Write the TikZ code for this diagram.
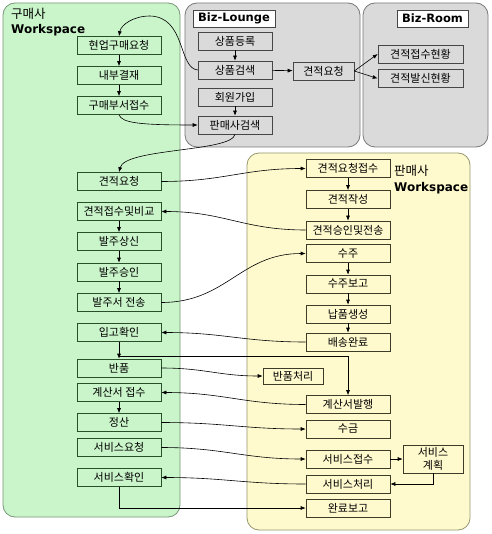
\documentclass[tikz,border=0pt]{standalone}
\usepackage{fontspec}
\newfontfamily\kr{Noto Sans CJK KR}
\newfontfamily\lat{DejaVu Sans}
\usetikzlibrary{arrows.meta}
\definecolor{gfill}{RGB}{202,245,202}
\definecolor{gpan}{RGB}{120,150,120}
\definecolor{gbd}{RGB}{40,80,40}
\definecolor{xfill}{RGB}{218,218,218}
\definecolor{xpan}{RGB}{120,120,120}
\definecolor{xbd}{RGB}{70,70,70}
\definecolor{yfill}{RGB}{255,250,205}
\definecolor{ypan}{RGB}{150,150,110}
\definecolor{ybd}{RGB}{60,60,40}
\begin{document}
\begin{tikzpicture}[x=1pt,y=-1pt,
  panel/.style={rounded corners=12pt, line width=0.8pt},
  box/.style={draw, inner sep=0pt, minimum height=18pt, font=\kr\fontsize{11}{12}\selectfont, line width=0.6pt},
  gbx/.style={box, draw=gbd, fill=gfill, minimum width=84pt},
  ybx/.style={box, draw=ybd, fill=yfill, minimum width=84pt},
  xbx/.style={box, draw=xbd, fill=xfill, minimum width=74pt},
  tag/.style={draw=xbd, fill=white, inner sep=0pt, minimum height=17pt, font=\lat\bfseries\fontsize{11.5}{12}\selectfont, line width=0.6pt},
  arr/.style={-{Latex[length=5pt,width=4pt]}, line width=0.6pt},
  lr/.style={arr, out=0, in=180, looseness=1.1},
  rl/.style={arr, out=180, in=0, looseness=1.1}]
\useasboundingbox (0,0) rectangle (491,534);
\fill[white] (0,0) rectangle (491,534);
% panels
\draw[panel, draw=gpan, fill=gfill] (3,3) rectangle (180,517);
\draw[panel, draw=xpan, fill=xfill] (185,3) rectangle (360,147);
\draw[panel, draw=xpan, fill=xfill] (363,3) rectangle (488,147);
\draw[panel, draw=ypan, fill=yfill] (247,153) rectangle (470,530);
% titles
\node[anchor=west, inner sep=0pt, font=\kr\fontsize{12.5}{14}\selectfont] (t1) at (11,14) {구매사};
\node[anchor=west, inner sep=0pt, font=\lat\bfseries\fontsize{12}{13}\selectfont] (t2) at (11,30) {Workspace};
\node[anchor=west, inner sep=0pt, font=\kr\fontsize{12.5}{14}\selectfont] (t3) at (394,171) {판매사};
\node[anchor=west, inner sep=0pt, font=\lat\bfseries\fontsize{12}{13}\selectfont] (t4) at (394,188) {Workspace};
\node[tag, minimum width=82pt] (bl) at (234,18.5) {Biz-Lounge};
\node[tag, minimum width=71pt] (br) at (432.5,18.5) {Biz-Room};
% green column
\node[gbx] (hy) at (119,45.5) {현업구매요청};
\node[gbx] (ng) at (119,75.5) {내부결재};
\node[gbx] (gb) at (119,105.5) {구매부서접수};
\node[gbx] (gq) at (119,181.5) {견적요청};
\node[gbx] (gc) at (119,211.5) {견적접수및비교};
\node[gbx] (bs) at (119,241.5) {발주상신};
\node[gbx] (ba) at (119,272) {발주승인};
\node[gbx] (bt) at (119,302.5) {발주서 전송};
\node[gbx] (ic) at (119,332.5) {입고확인};
\node[gbx] (rt) at (119,368) {반품};
\node[gbx] (ir) at (119,392.5) {계산서 접수};
\node[gbx] (st) at (119,422.5) {정산};
\node[gbx] (sr) at (119,447.5) {서비스요청};
\node[gbx] (sc) at (119,477.5) {서비스확인};
% gray
\node[xbx] (pr) at (235,41) {상품등록};
\node[xbx] (ps) at (235,70) {상품검색};
\node[xbx, minimum width=61pt] (eq) at (323.5,71) {견적요청};
\node[xbx] (mj) at (235,97) {회원가입};
\node[xbx] (ss) at (235,125) {판매사검색};
\node[xbx, minimum width=85pt] (r1) at (420.5,54) {견적접수현황};
\node[xbx, minimum width=85pt] (r2) at (420.5,78.5) {견적발신현황};
% yellow
\node[ybx] (er) at (348,168.5) {견적요청접수};
\node[ybx] (ew) at (348,199.5) {견적작성};
\node[ybx] (ea) at (348,230) {견적승인및전송};
\node[ybx] (oa) at (348,253.5) {수주};
\node[ybx] (orp) at (348,284) {수주보고};
\node[ybx] (dg) at (348,314) {납품생성};
\node[ybx] (dd) at (348,342) {배송완료};
\node[ybx, minimum width=60pt, minimum height=16pt] (rp) at (293,376) {반품처리};
\node[ybx] (inv) at (348,404.5) {계산서발행};
\node[ybx] (col) at (348,429) {수금};
\node[ybx] (svr) at (348,459) {서비스접수};
\node[ybx, minimum width=60pt, minimum height=28pt, align=center, font=\kr\fontsize{11}{12.5}\selectfont] (plan) at (433,459) {서비스\\계획};
\node[ybx] (svp) at (348,484) {서비스처리};
\node[ybx] (done) at (348,508) {완료보고};
% vertical arrows
\draw[arr] (hy) -- (ng);
\draw[arr] (ng) -- (gb);
\draw[arr] (gc) -- (bs);
\draw[arr] (bs) -- (ba);
\draw[arr] (ba) -- (bt);
\draw[arr] (ic) -- (rt);
\draw[arr] (ir) -- (st);
\draw[arr] (pr) -- (ps);
\draw[arr] (mj) -- (ss);
\draw[arr] (er) -- (ew);
\draw[arr] (ew) -- (ea);
\draw[arr] (oa) -- (orp);
\draw[arr] (orp) -- (dg);
\draw[arr] (dg) -- (dd);
% Biz connectors
\draw[arr] (ps) -- (eq);
\draw[arr] (eq.east) -- (r1.west);
\draw[arr] (eq.east) -- (r2.west);
\draw[arr] (ps.west) .. controls (178,68) and (186,17) .. (150,16) .. controls (133,16) and (121,25) .. (hy.north);
\draw[arr] (gb.south) .. controls (122,123) and (140,125) .. (ss.west);
\draw[arr] (ss.south) .. controls (232,152) and (125,148) .. (gq.north);
% cross connectors
\draw[lr] (gq.east) to (er.west);
\draw[rl] (ea.west) to (gc.east);
\draw[lr] (bt.east) to (oa.west);
\draw[rl] (dd.west) to (ic.east);
\coordinate (j) at (119,356);
\draw[arr] (j) -| (inv.north);
\draw[lr] (rt.east) to (rp.west);
\draw[rl] (inv.west) to (ir.east);
\draw[lr] (st.east) to (col.west);
\draw[lr] (sr.east) to (svr.west);
\draw[arr] (svr) -- (plan);
\draw[arr] (plan.south) |- (svp.east);
\draw[rl] (svp.west) to (sc.east);
\draw[arr] (sc.south) |- (done.west);
\end{tikzpicture}
\end{document}
